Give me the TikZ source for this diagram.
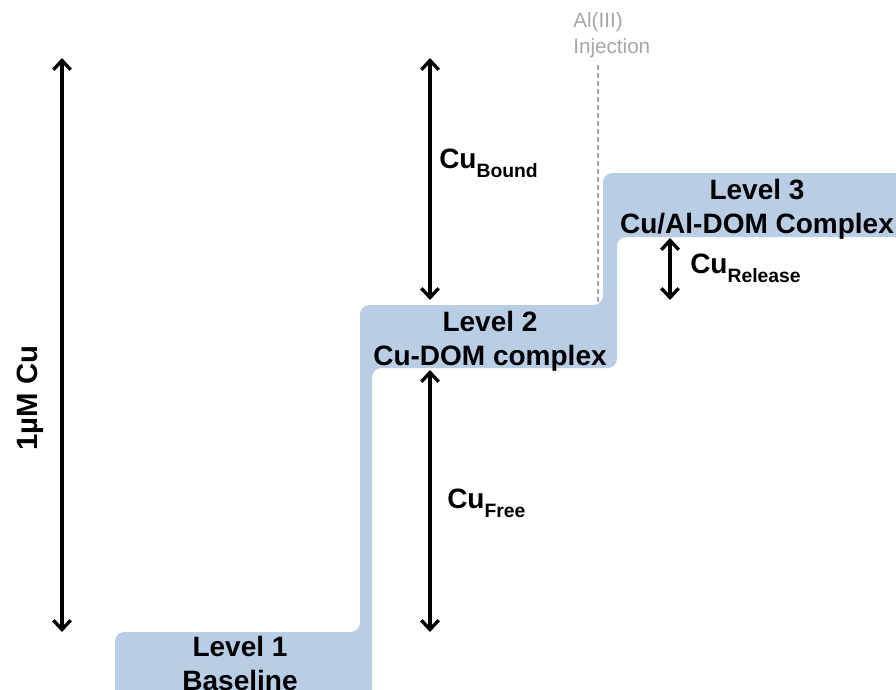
\documentclass[tikz,border=0pt]{standalone}
\usepackage{fontspec}
\setmainfont{Liberation Sans}
\usetikzlibrary{arrows.meta}
\definecolor{BandClr}{RGB}{185,205,229}
\definecolor{InjClr}{RGB}{166,166,166}
\newcommand\cusub[1]{Cu\raisebox{-7pt}{\fontsize{14.5}{15}\selectfont #1}}

\begin{document}
\begin{tikzpicture}[x=.75pt,y=-.75pt,
  lvl/.style={font=\fontsize{21}{25.5}\selectfont\bfseries,align=center,anchor=base,inner sep=0pt},
  cu/.style={font=\fontsize{21}{25}\selectfont\bfseries,anchor=base west,inner sep=0pt},
  dbl/.style={{Straight Barb[length=7pt,width=13pt]}-{Straight Barb[length=7pt,width=13pt]},line width=2.5pt}]

\useasboundingbox (0,0) rectangle (896,689);
\clip (0,0) rectangle (896,689);

\fill[BandClr,rounded corners=7pt] (115,720) -- (115,632) -- (360,632) -- (360,305) -- (603,305) -- (603,173) -- (930,173) -- (930,237) -- (617,237) -- (617,368) -- (372,368) -- (372,720) -- cycle;

\coordinate (inj top) at (598,65);
\coordinate (inj bot) at (598,303);
\draw[InjClr,line width=.8pt,dash pattern=on 4pt off 2pt] (inj top) -- (inj bot);
\node[font=\fontsize{15.5}{19}\selectfont,text=InjClr,align=left,anchor=base west,inner sep=0pt] (inj) at (573,53) {Al(III)\\Injection};

\coordinate (tot top) at (62,58);
\coordinate (tot bot) at (62,632);
\coordinate (bnd top) at (430,58);
\coordinate (bnd bot) at (430,300);
\coordinate (free top) at (430,370);
\coordinate (free bot) at (430,632);
\coordinate (rel top) at (670,238);
\coordinate (rel bot) at (670,300);

\draw[dbl] (tot top) -- (tot bot);
\draw[dbl] (bnd top) -- (bnd bot);
\draw[dbl] (free top) -- (free bot);
\draw[dbl] (rel top) -- (rel bot);

\node[lvl] (lvl1) at (240,690) {Level 1\\Baseline};
\node[lvl] (lvl2) at (490,365) {Level 2\\Cu-DOM complex};
\node[lvl] (lvl3) at (757,233) {Level 3\\Cu/Al-DOM Complex};

\node[cu] (bound) at (439,168) {\cusub{Bound}};
\node[cu] (free) at (447,508) {\cusub{Free}};
\node[cu] (release) at (690,273) {\cusub{Release}};
\node[font=\fontsize{22}{22}\selectfont\bfseries,rotate=90,inner sep=0pt] (total) at (30,398) {1µM Cu};

\end{tikzpicture}
\end{document}
